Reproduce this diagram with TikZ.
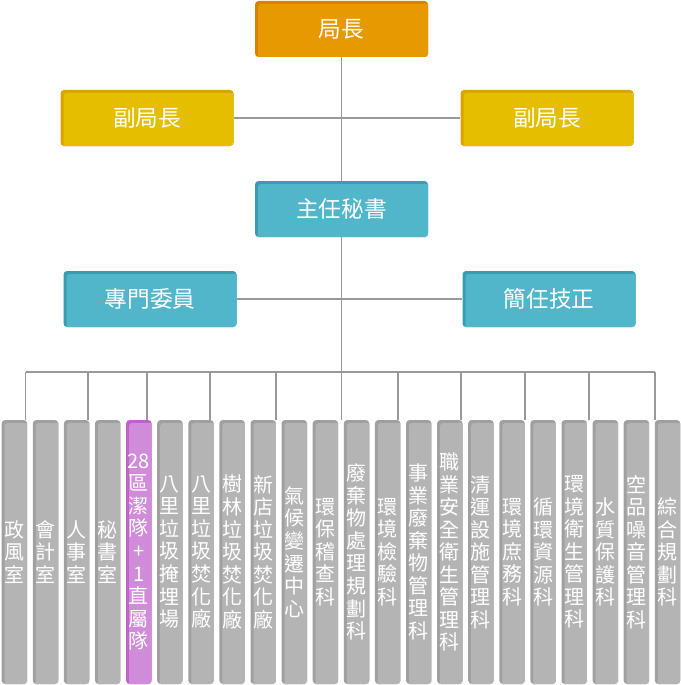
\documentclass[tikz,border=0pt]{standalone}
\usepackage{fontspec}
\newfontfamily\cjk{Noto Sans CJK TC}
\definecolor{orgD}{HTML}{D98200}
\definecolor{orgM}{HTML}{E69900}
\definecolor{yelD}{HTML}{DBA300}
\definecolor{yelM}{HTML}{E6BE00}
\definecolor{bluD}{HTML}{3A9CB2}
\definecolor{bluM}{HTML}{52B6CA}
\definecolor{gryD}{HTML}{A0A0A0}
\definecolor{gryM}{HTML}{B4B4B4}
\definecolor{purD}{HTML}{BE62C8}
\definecolor{purM}{HTML}{D08CD8}
\definecolor{lineC}{HTML}{999999}
\tikzset{
  shade3d/.style 2 args={fill=#1, rounded corners=2.6pt,
    path picture={\fill[#2, rounded corners=2.2pt]
      ([xshift=2.25pt,yshift=-2.25pt]path picture bounding box.north west)
      rectangle ([xshift=2pt,yshift=-2pt]path picture bounding box.south east);}},
  topbox/.style={shade3d={#1D}{#1M}, inner sep=0pt, minimum width=129.75pt,
    minimum height=42pt, text=white, font=\cjk\fontsize{17}{20}\selectfont},
  colbox/.style={shade3d={#1D}{#1M}, inner sep=0pt, minimum width=19.1pt,
    minimum height=198pt, text=white, align=center,
    font=\cjk\fontsize{15}{16.9}\selectfont},
  conn/.style={draw=lineC, line width=0.8pt},
}
\begin{document}
\begin{tikzpicture}[x=0.75pt,y=-0.75pt]
\useasboundingbox (0,0) rectangle (681,685);
% top boxes
\node[topbox=org] (dir) at (341.5,29) {局長};
\node[topbox=yel] (depL) at (147,118) {副局長};
\node[topbox=yel] (depR) at (547,118) {副局長};
\node[topbox=blu] (sec) at (341.5,209) {主任秘書};
\node[topbox=blu] (comm) at (150,299) {專門委員};
\node[topbox=blu] (tech) at (549,299) {簡任技正};
% columns
\def\cy{552}
\node[colbox=gry] (c1) at (14.45,\cy) {政\\風\\室};
\node[colbox=gry] (c2) at (45.55,\cy) {會\\計\\室};
\node[colbox=gry] (c3) at (76.65,\cy) {人\\事\\室};
\node[colbox=gry] (c4) at (107.75,\cy) {秘\\書\\室};
\node[colbox=pur] (c5) at (138.85,\cy) {28\\區\\潔\\隊\\+\\1\\直\\屬\\隊};
\node[colbox=gry] (c6) at (169.95,\cy) {八\\里\\垃\\圾\\掩\\埋\\場};
\node[colbox=gry] (c7) at (201.05,\cy) {八\\里\\垃\\圾\\焚\\化\\廠};
\node[colbox=gry] (c8) at (232.15,\cy) {樹\\林\\垃\\圾\\焚\\化\\廠};
\node[colbox=gry] (c9) at (263.25,\cy) {新\\店\\垃\\圾\\焚\\化\\廠};
\node[colbox=gry] (c10) at (294.35,\cy) {氣\\候\\變\\遷\\中\\心};
\node[colbox=gry] (c11) at (325.45,\cy) {環\\保\\稽\\查\\科};
\node[colbox=gry] (c12) at (356.55,\cy) {廢\\棄\\物\\處\\理\\規\\劃\\科};
\node[colbox=gry] (c13) at (387.65,\cy) {環\\境\\檢\\驗\\科};
\node[colbox=gry] (c14) at (418.75,\cy) {事\\業\\廢\\棄\\物\\管\\理\\科};
\node[colbox=gry] (c15) at (449.85,\cy) {職\\業\\安\\全\\衛\\生\\管\\理\\科};
\node[colbox=gry] (c16) at (480.95,\cy) {清\\運\\設\\施\\管\\理\\科};
\node[colbox=gry] (c17) at (512.05,\cy) {環\\境\\庶\\務\\科};
\node[colbox=gry] (c18) at (543.15,\cy) {循\\環\\資\\源\\科};
\node[colbox=gry] (c19) at (574.25,\cy) {環\\境\\衛\\生\\管\\理\\科};
\node[colbox=gry] (c20) at (605.35,\cy) {水\\質\\保\\護\\科};
\node[colbox=gry] (c21) at (636.45,\cy) {空\\品\\噪\\音\\管\\理\\科};
\node[colbox=gry] (c22) at (667.55,\cy) {綜\\合\\規\\劃\\科};
% connectors
\draw[conn] (dir.south) -- (sec.north);
\draw[conn] (depL.east) -- (depR.west);
\draw[conn] (comm.east) -- (tech.west);
\draw[conn] (sec.south) -- (sec.south |- c12.north);
\coordinate (d1) at (25.7,372);
\coordinate (d2) at (88,372);
\coordinate (d3) at (147,372);
\coordinate (d4) at (210,372);
\coordinate (d5) at (276,372);
\coordinate (d6) at (398,372);
\coordinate (d7) at (461,372);
\coordinate (d8) at (525,372);
\coordinate (d9) at (589,372);
\coordinate (d10) at (655,372);
\draw[conn] (d1) -- (d10);
\draw[conn] (d1) -- (d1 |- c1.north);
\draw[conn] (d2) -- (d2 |- c3.north);
\draw[conn] (d3) -- (d3 |- c5.north);
\draw[conn] (d4) -- (d4 |- c7.north);
\draw[conn] (d5) -- (d5 |- c9.north);
\draw[conn] (d6) -- (d6 |- c13.north);
\draw[conn] (d7) -- (d7 |- c15.north);
\draw[conn] (d8) -- (d8 |- c17.north);
\draw[conn] (d9) -- (d9 |- c19.north);
\draw[conn] (d10) -- (d10 |- c22.north);
\end{tikzpicture}
\end{document}
